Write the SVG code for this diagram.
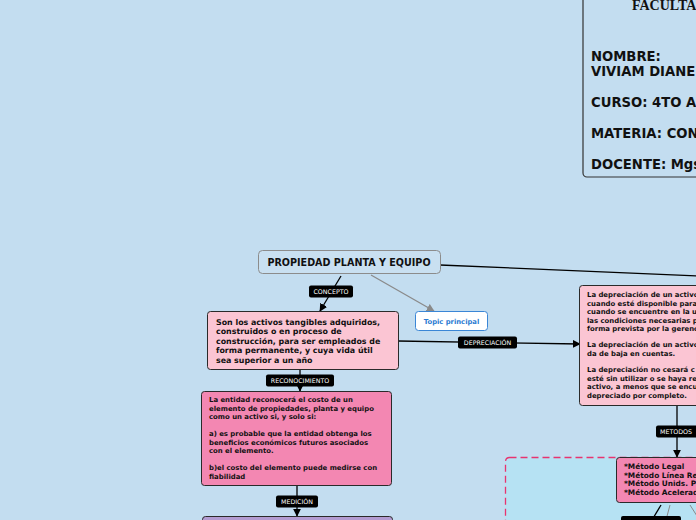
<svg xmlns="http://www.w3.org/2000/svg" width="696" height="520" viewBox="0 0 696 520">
<defs>
<marker id="ab" viewBox="0 0 10 10" refX="9" refY="5" markerWidth="8" markerHeight="8" orient="auto" markerUnits="userSpaceOnUse"><path d="M0,0 L10,5 L0,10 z" fill="#000"/></marker>
<marker id="ag" viewBox="0 0 10 10" refX="9" refY="5" markerWidth="8" markerHeight="8" orient="auto" markerUnits="userSpaceOnUse"><path d="M0,0 L10,5 L0,10 z" fill="#8a8a8a"/></marker>
</defs>
<style>
.nb{font-family:"DejaVu Sans",Verdana,sans-serif;font-weight:bold;fill:#111}
.lb{fill:#000;rx:2}
.lt{font-family:"DejaVu Sans",Verdana,sans-serif;font-size:6.3px;fill:#fff;text-anchor:middle}
.box{stroke:#2a2a2a;stroke-width:1}
.ln{stroke:#000;stroke-width:1.3;fill:none}
</style>
<rect width="696" height="520" fill="#c3ddf0"/>

<g id="info">
<rect x="583" y="-6" width="130" height="183" rx="4" fill="#c3ddf0" stroke="#333" stroke-width="1.2"/>
<text x="632" y="10" font-family="Liberation Serif,serif" font-weight="bold" font-size="14" fill="#111">FACULTAD</text>
<text class="nb" font-size="13.2" x="591" y="61">NOMBRE:</text>
<text class="nb" font-size="13.2" x="591" y="76">VIVIAM DIANE</text>
<text class="nb" font-size="13.2" x="591" y="107">CURSO: 4TO AC</text>
<text class="nb" font-size="13.2" x="591" y="138">MATERIA: CON</text>
<text class="nb" font-size="13.2" x="591" y="169">DOCENTE: Mgs</text>
</g>

<g id="dashed-area">
<rect x="505.5" y="457.5" width="220" height="100" rx="4" fill="#b6e2f3" stroke="#e8336f" stroke-width="1.3" stroke-dasharray="7,4"/>
</g>

<g id="connectors">
<line class="ln" x1="440" y1="265" x2="700" y2="276"/>
<line class="ln" x1="341" y1="276" x2="320" y2="311" marker-end="url(#ab)"/>
<line x1="371" y1="275" x2="434" y2="311" stroke="#8a8a8a" stroke-width="1.3" marker-end="url(#ag)"/>
<line class="ln" x1="398" y1="341" x2="580" y2="344" marker-end="url(#ab)"/>
<line class="ln" x1="300" y1="370" x2="300" y2="391" marker-end="url(#ab)"/>
<line class="ln" x1="297" y1="486" x2="297" y2="516" marker-end="url(#ab)"/>
<line class="ln" x1="677" y1="406" x2="677" y2="457" marker-end="url(#ab)"/>
<line class="ln" x1="661" y1="505" x2="652" y2="520"/>
<line x1="670" y1="505" x2="666" y2="520" stroke="#8a8a8a" stroke-width="1"/>
<line x1="690" y1="505" x2="697" y2="516" stroke="#8a8a8a" stroke-width="1"/>
<rect class="lb" x="309" y="285.5" width="44" height="12"/>
<text class="lt" x="331" y="294">CONCEPTO</text>
<rect class="lb" x="458" y="336.5" width="59" height="12"/>
<text class="lt" x="487.5" y="345">DEPRECIACIÓN</text>
<rect class="lb" x="266" y="374.5" width="68" height="12"/>
<text class="lt" x="300" y="383">RECONOCIMIENTO</text>
<rect class="lb" x="276" y="495.5" width="42" height="12"/>
<text class="lt" x="297" y="504">MEDICIÓN</text>
<rect class="lb" x="656" y="425.5" width="42" height="12"/>
<text class="lt" x="676" y="434">METODOS</text>
<rect class="lb" x="621" y="516" width="60" height="10"/>
</g>

<g id="main">
<rect x="258.5" y="250.5" width="182" height="23" rx="4" fill="#c9e0f1" stroke="#8c8c8c" stroke-width="1"/>
<text class="nb" font-size="9.6" x="349" y="265.5" text-anchor="middle">PROPIEDAD PLANTA Y EQUIPO</text>
</g>

<g id="topic">
<rect x="415.5" y="311.5" width="72" height="19" rx="3" fill="#fff" stroke="#3a86d6" stroke-width="1"/>
<text x="451.5" y="323.5" font-family="DejaVu Sans,sans-serif" font-weight="bold" font-size="6.8" fill="#2a7bd2" text-anchor="middle">Topic principal</text>
</g>

<g id="concepto">
<rect class="box" x="207.5" y="311.5" width="191" height="58" rx="3" fill="#fbc5d3"/>
<text class="nb" font-size="7.9">
<tspan x="216" y="324.5">Son los activos tangibles adquiridos,</tspan>
<tspan x="216" y="334">construidos o en proceso de</tspan>
<tspan x="216" y="343.5">construcción, para ser empleados de</tspan>
<tspan x="216" y="353">forma permanente, y cuya vida útil</tspan>
<tspan x="216" y="362.5">sea superior a un año</tspan>
</text>
</g>

<g id="reconocimiento">
<rect class="box" x="201.5" y="391.5" width="190" height="94" rx="3" fill="#f387b2"/>
<text class="nb" font-size="6.9">
<tspan x="209" y="402">La entidad reconocerá el costo de un</tspan>
<tspan x="209" y="410.5">elemento de propiedades, planta y equipo</tspan>
<tspan x="209" y="419">como un activo si, y solo si:</tspan>
<tspan x="209" y="436">a) es probable que la entidad obtenga los</tspan>
<tspan x="209" y="444.5">beneficios económicos futuros asociados</tspan>
<tspan x="209" y="453">con el elemento.</tspan>
<tspan x="209" y="470">b)el costo del elemento puede medirse con</tspan>
<tspan x="209" y="478.5">fiabilidad</tspan>
</text>
</g>

<g id="medicion">
<rect class="box" x="202.5" y="516.5" width="190" height="20" rx="3" fill="#b39bd1"/>
</g>

<g id="depreciacion">
<rect class="box" x="579.5" y="285.5" width="130" height="120" rx="3" fill="#fbc5d3"/>
<text class="nb" font-size="6.9">
<tspan x="587" y="297">La depreciación de un activo</tspan>
<tspan x="587" y="305.5">cuando esté disponible para</tspan>
<tspan x="587" y="314">cuando se encuentre en la u</tspan>
<tspan x="587" y="322.5">las condiciones necesarias p</tspan>
<tspan x="587" y="331">forma prevista por la gerenc</tspan>
<tspan x="587" y="347">La depreciación de un activo</tspan>
<tspan x="587" y="355.5">da de baja en cuentas.</tspan>
<tspan x="587" y="372">La depreciación no cesará c</tspan>
<tspan x="587" y="380.5">esté sin utilizar o se haya re</tspan>
<tspan x="587" y="389">activo, a menos que se encu</tspan>
<tspan x="587" y="397.5">depreciado por completo.</tspan>
</text>
</g>

<g id="metodos">
<rect class="box" x="616.5" y="457.5" width="100" height="45" rx="3" fill="#f387b2"/>
<text class="nb" font-size="7.4">
<tspan x="624" y="469">*Método Legal</tspan>
<tspan x="624" y="477.5">*Método Línea Rec</tspan>
<tspan x="624" y="486">*Método Unids. Pr</tspan>
<tspan x="624" y="494.5">*Método Acelerado</tspan>
</text>
</g>
</svg>
